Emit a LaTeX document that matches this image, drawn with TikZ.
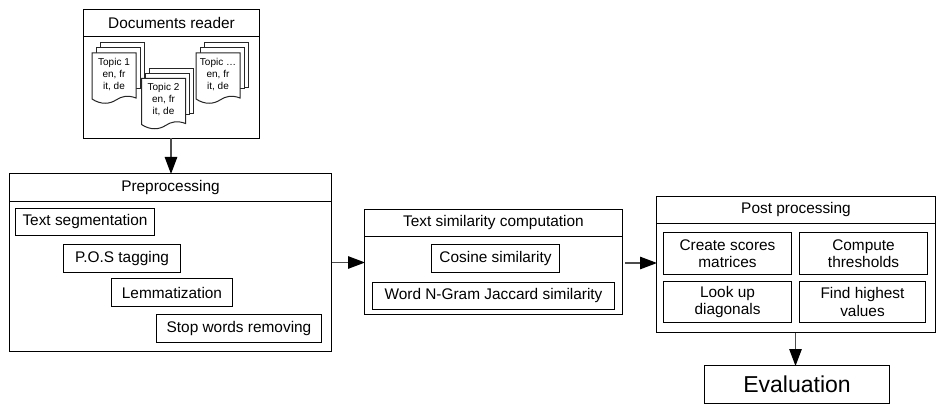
\documentclass[tikz,border=0pt]{standalone}
\usepackage{fontspec}
\setmainfont{Liberation Sans}
\usetikzlibrary{arrows.meta}
\newcommand{\bx}[7][]{%
  \node[boxnode,#1,minimum width={(#5-#3)*1pt},minimum height={(#6-#4)*1pt}] (#2) at ({(#3+#5)/2},{(#4+#6)/2}) {#7};}
\newcommand{\sheetpath}{(0,0) -- (44,0) -- (44,45) .. controls (36,42) and (30,43) .. (24,47) .. controls (18,51) and (9,52) .. (0,46) -- cycle}
\newcommand{\docstack}[4]{%
  \begin{scope}[shift={(#2,#3)}]
    \filldraw[sheet] (8,-10) rectangle (52,35);
    \filldraw[sheet] (4,-5) rectangle (48,36);
    \filldraw[sheet] \sheetpath;
    \node[doctext] (#1) at (22,21.5) {#4\\en, fr\\it, de};
  \end{scope}}
\tikzset{
  boxnode/.style={draw=black,line width=1.1pt,fill=white,inner sep=0pt,outer sep=0pt,font=\fontsize{15.4}{17.5}\selectfont,align=center},
  sheet/.style={draw=black!85,fill=white,line width=1pt},
  doctext/.style={inner sep=0pt,align=center,font=\fontsize{10}{12}\selectfont},
  flow/.style={draw=black!70,line width=1.2pt,-{Triangle[length=17pt,width=12.5pt,color=black,fill=black]},shorten >=-0.5pt},
}
\begin{document}
\begin{tikzpicture}[x=1pt,y=-1pt]
\useasboundingbox (0,0) rectangle (944,414);
% Documents reader
\bx{reader}{83.5}{9.5}{259.5}{138.5}{}
\bx{readertitle}{83.5}{9.5}{259.5}{36.5}{Documents reader}
\docstack{topicA}{92}{53}{Topic 1}
\docstack{topicB}{141.5}{78.5}{Topic 2}
\docstack{topicC}{196}{53}{Topic \dots}
% Preprocessing
\bx{pre}{9.5}{173.5}{331.5}{351.5}{}
\bx{pretitle}{9.5}{173.5}{331.5}{201.5}{Preprocessing}
\bx{seg}{15.5}{208.5}{154.5}{235.5}{\raisebox{-1pt}{Text segmentation}}
\bx{pos}{63.5}{244.5}{180.5}{272.5}{P.O.S tagging}
\bx{lem}{111.5}{278.5}{232.5}{306.5}{Lemmatization}
\bx{stop}{156.5}{314.5}{321.5}{342.5}{\raisebox{-1pt}{Stop words removing}}
% Text similarity
\bx{sim}{364.5}{209.5}{622.5}{314.5}{}
\bx{simtitle}{364.5}{209.5}{622.5}{236.5}{Text similarity computation}
\bx{cos}{431.5}{244.5}{559.5}{272.5}{Cosine similarity}
\bx{jac}{372.5}{282.5}{614.5}{309.5}{Word N-Gram Jaccard similarity}
% Post processing
\bx{post}{656.5}{196.5}{935.5}{332.5}{}
\bx{posttitle}{656.5}{196.5}{935.5}{223.5}{Post processing}
\bx{scores}{663.5}{232.5}{791.5}{274.5}{Create scores\\matrices}
\bx{thresh}{799.5}{232.5}{927.5}{274.5}{Compute\\thresholds}
\bx{diag}{663.5}{281.5}{791.5}{322.5}{Look up\\diagonals}
\bx{high}{799.5}{281.5}{925.5}{322.5}{Find highest\\values}
% Evaluation
\bx[font=\fontsize{23}{26}\selectfont]{eval}{704.5}{365.5}{889.5}{403.5}{Evaluation}
% Connectors
\coordinate (readerout) at (171,138.5);
\coordinate (prein) at (171,173.5);
\coordinate (preout) at (331.5,262.5);
\coordinate (simin) at (364.5,262.5);
\coordinate (simout) at (625,263);
\coordinate (postin) at (656.5,263);
\coordinate (postout) at (795.5,332.5);
\coordinate (evalin) at (795.5,365.5);
\draw[flow] (readerout) -- (prein);
\draw[flow] (preout) -- (simin);
\draw[flow] (simout) -- (postin);
\draw[flow] (postout) -- (evalin);
\end{tikzpicture}
\end{document}
